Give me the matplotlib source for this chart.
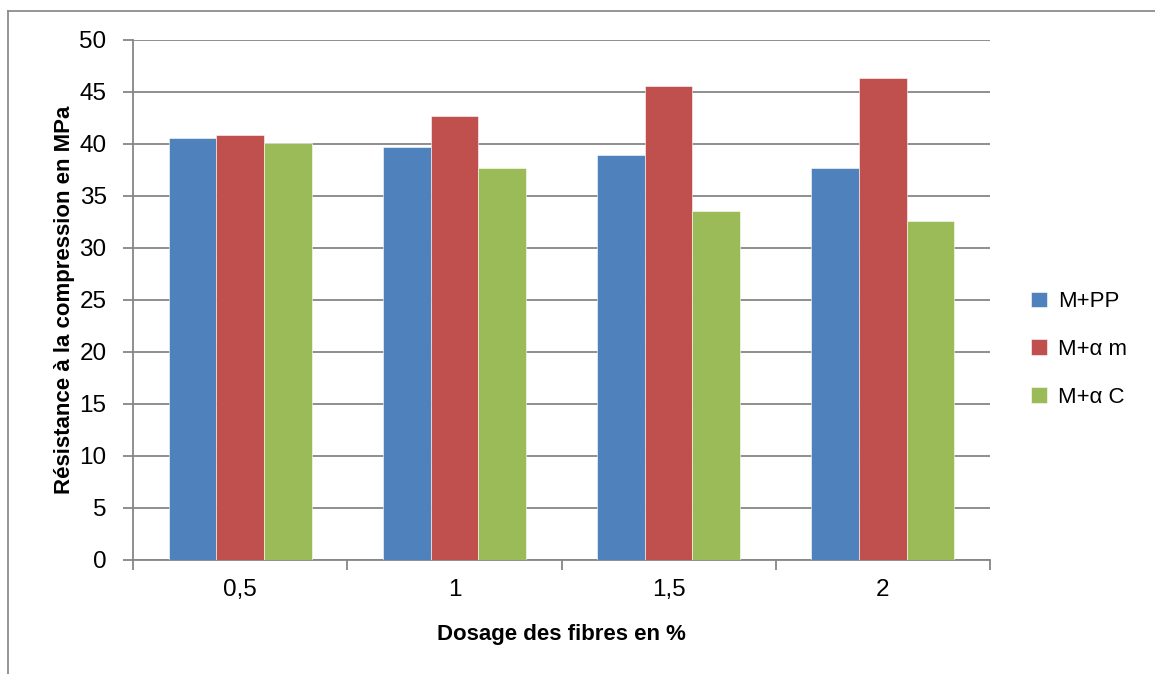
import matplotlib
matplotlib.use("Agg")
import matplotlib.pyplot as plt
from matplotlib.lines import Line2D
import numpy as np

categories = ["0,5", "1", "1,5", "2"]
series_names = ["M+PP", "M+\u03b1 m", "M+\u03b1 C"]
m_pp = [40.6, 39.75, 38.9, 37.65]
m_am = [40.9, 42.7, 45.6, 46.3]
m_ac = [40.05, 37.7, 33.55, 32.55]
colors = ["#4F81BD", "#C0504D", "#9BBB59"]
yticks = [0, 5, 10, 15, 20, 25, 30, 35, 40, 45, 50]

plt.rcParams['font.family'] = ['Liberation Sans Narrow', 'Liberation Sans', 'DejaVu Sans']

W, H = 1155, 674
fig = plt.figure(figsize=(W / 100, H / 100), dpi=100)
ax = fig.add_axes([133 / W, 1 - 560 / H, (990 - 133) / W, (560 - 40) / H])

x = np.arange(len(categories))
bw = 1 / 4.5
for i, (vals, name) in enumerate(zip([m_pp, m_am, m_ac], series_names)):
    ax.bar(x + (i - 1) * bw, vals, width=bw, color=colors[i], label=name,
           edgecolor="white", linewidth=0.4, zorder=3)

ax.set_xlim(-0.5, len(categories) - 0.5)
ax.set_ylim(0, 50)
ax.set_yticks(yticks)
ax.set_yticklabels([str(v) for v in yticks], fontsize=17.5)
ax.set_xticks(x)
ax.set_xticklabels(categories, fontsize=17.5)
ax.set_xticks(np.arange(len(categories) + 1) - 0.5, minor=True)
ax.tick_params(axis='x', which='major', length=0, pad=14)
ax.tick_params(axis='x', which='minor', length=7, color="#868686", width=1.3)
ax.tick_params(axis='y', length=7, color="#868686", width=1.3, direction='out', pad=12)
ax.grid(axis='y', color="#868686", linewidth=1.3, zorder=0)
for s in ["top", "right"]:
    ax.spines[s].set_visible(False)
for s in ["left", "bottom"]:
    ax.spines[s].set_color("#868686")
    ax.spines[s].set_linewidth(1.3)

ax.set_xlabel("Dosage des fibres en %", fontsize=16, fontweight="bold", labelpad=16)
ax.set_ylabel("R\u00e9sistance \u00e0 la compression en MPa", fontsize=16, fontweight="bold", labelpad=3)

leg = ax.legend(loc="center left", bbox_to_anchor=(1.025, 0.405), frameon=False,
                fontsize=16, handlelength=0.7, handleheight=0.7, labelspacing=1.2,
                handletextpad=0.5)

# outer chart border (top and left visible)
fig.add_artist(Line2D([7.5 / W, 7.5 / W], [0, 1 - 11 / H], color="#8c8c8c", linewidth=1.3))
fig.add_artist(Line2D([7.5 / W, 1], [1 - 11 / H, 1 - 11 / H], color="#8c8c8c", linewidth=1.3))

fig.savefig("out.png", dpi=100)
